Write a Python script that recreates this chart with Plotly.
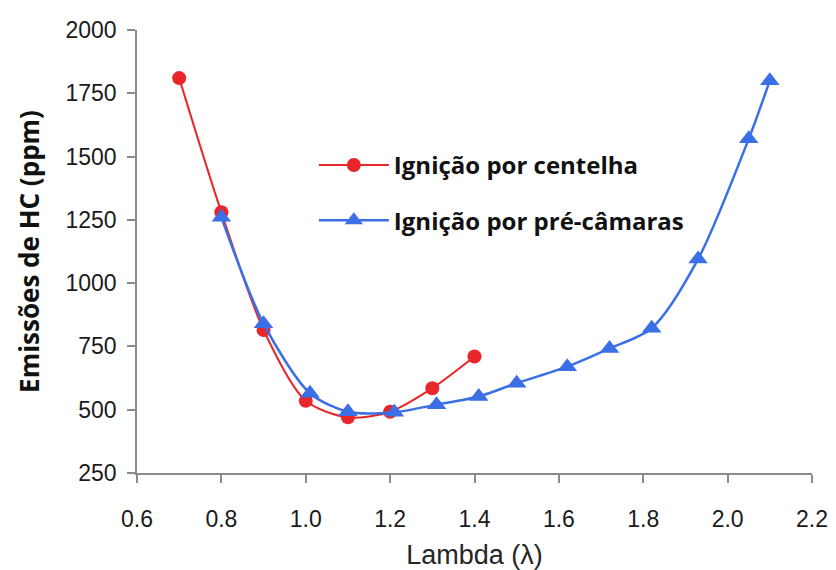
import plotly.graph_objects as go

# Spark ignition (centelha)
lambda_spark = [0.7, 0.8, 0.9, 1.0, 1.1, 1.2, 1.3, 1.4]
hc_spark = [1810, 1280, 815, 535, 470, 492, 585, 710]

# Pre-chamber ignition (pré-câmaras)
lambda_pre = [0.8, 0.9, 1.01, 1.1, 1.21, 1.31, 1.41, 1.5, 1.62, 1.72, 1.82, 1.93, 2.05, 2.1]
hc_pre = [1260, 840, 565, 492, 490, 520, 552, 605, 670, 742, 822, 1095, 1570, 1800]

x_ticks = [0.6, 0.8, 1.0, 1.2, 1.4, 1.6, 1.8, 2.0, 2.2]
y_ticks = [250, 500, 750, 1000, 1250, 1500, 1750, 2000]

RED = "#e8262b"
BLUE = "#3b6fe6"

fig = go.Figure()
fig.add_trace(go.Scatter(
    x=lambda_spark, y=hc_spark, mode="lines+markers",
    name="Ignição por centelha", legendgroup="spark",
    line=dict(color=RED, width=2, shape="spline", smoothing=0.8),
    marker=dict(symbol="circle", size=14, color=RED),
))
fig.add_trace(go.Scatter(
    x=lambda_pre, y=hc_pre, mode="lines+markers",
    name="Ignição por pré-câmaras", legendgroup="pre",
    line=dict(color=BLUE, width=2.5, shape="spline", smoothing=0.8),
    marker=dict(symbol="triangle-up", size=17, color=BLUE),
))

tick_font = dict(family="Liberation Sans, Arial, sans-serif", size=23, color="#1a1a1a")
bold_font = dict(family="Open Sans, sans-serif", color="#111111", weight="bold")

fig.update_layout(
    width=836, height=570,
    margin=dict(l=137, r=24, t=30, b=97),
    paper_bgcolor="white", plot_bgcolor="white",
    showlegend=True,
    legend=dict(
        x=0.262, y=0.745, xanchor="left", yanchor="top",
        font=dict(size=24, **bold_font),
        bgcolor="rgba(0,0,0,0)", itemwidth=70, tracegroupgap=21,
    ),
    xaxis=dict(
        range=[0.6, 2.2], tickvals=x_ticks, ticktext=[f"{v:.1f}" for v in x_ticks],
        showgrid=False, zeroline=False, showline=True, linecolor="#8a8a8a", linewidth=1.5,
        ticks="outside", ticklen=8, tickcolor="#8a8a8a", tickwidth=1.5,
        tickfont=tick_font, ticklabelstandoff=17, automargin=False,
        title=dict(text="Lambda (λ)", font=dict(family="Liberation Sans, Arial, sans-serif", size=27, color="#262626"), standoff=18),
    ),
    yaxis=dict(
        range=[250, 2000], tickvals=y_ticks,
        showgrid=False, zeroline=False, showline=True, linecolor="#8a8a8a", linewidth=1.5,
        ticks="outside", ticklen=8, tickcolor="#8a8a8a", tickwidth=1.5,
        tickfont=tick_font, ticklabelstandoff=6, automargin=False,
        title=dict(text="Emissões de HC (ppm)", font=dict(size=26, **bold_font), standoff=18),
    ),
)

fig.write_html("out.html")
